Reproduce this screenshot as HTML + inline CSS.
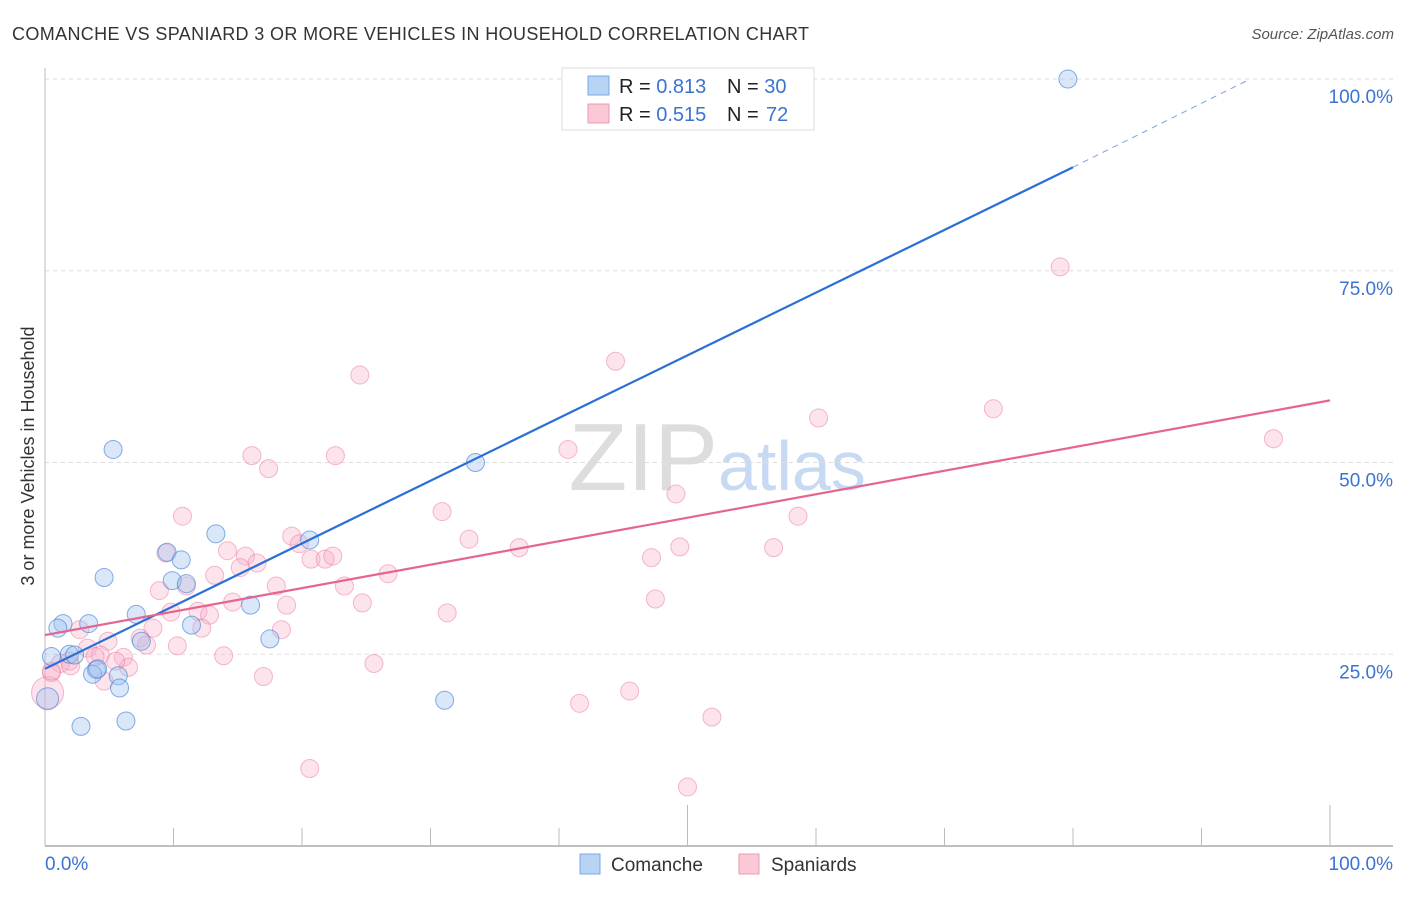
<!DOCTYPE html>
<html><head><meta charset="utf-8"><style>
body{margin:0;background:#fff;font-family:"Liberation Sans",sans-serif;}
svg text{font-family:"Liberation Sans",sans-serif;}
</style></head><body>
<svg id="chart" width="1406" height="892" xmlns="http://www.w3.org/2000/svg">
<text x="12" y="40" font-size="18" fill="#333" textLength="797">COMANCHE VS SPANIARD 3 OR MORE VEHICLES IN HOUSEHOLD CORRELATION CHART</text>
<text x="1394" y="39" font-size="15" fill="#555" font-style="italic" text-anchor="end">Source: ZipAtlas.com</text>
<text x="34" y="456" font-size="18" fill="#333" text-anchor="middle" transform="rotate(-90 34 456)">3 or more Vehicles in Household</text>
<text x="718" y="490" font-size="96" fill="#ddd" text-anchor="end" font-family="Liberation Serif">ZIP</text>
<text x="718" y="490" font-size="70" fill="#c8daf3">atlas</text>
<g id="grid"></g><g id="axes"></g><g id="pts"></g><g id="trend"></g>
<g>
<rect x="562" y="68" width="252" height="62" fill="#fff" stroke="#ddd"/>
<rect x="588" y="76" width="21" height="19" fill="#b8d4f5" stroke="#7aa8e6"/>
<rect x="588" y="104" width="21" height="19" fill="#fbc8d6" stroke="#ee9ab3"/>
<text x="619" y="93" font-size="20" fill="#222">R = <tspan fill="#3b73d1">0.813</tspan><tspan x="727">N = </tspan><tspan fill="#3b73d1">30</tspan></text>
<text x="619" y="121" font-size="20" fill="#222">R = <tspan fill="#3b73d1">0.515</tspan><tspan x="727">N = </tspan><tspan fill="#3b73d1" x="766">72</tspan></text>
</g>
<g>
<rect x="580" y="854" width="20" height="20" fill="#b8d4f5" stroke="#7aa8e6"/>
<text x="611" y="871" font-size="19" fill="#333">Comanche</text>
<rect x="739" y="854" width="20" height="20" fill="#fbc8d6" stroke="#ee9ab3"/>
<text x="771" y="871" font-size="19" fill="#333">Spaniards</text>
</g>
</svg>
<script>
const yTicks=[25,50,75,100];
const yTickLabels=["25.0%","50.0%","75.0%","100.0%"];
const xEndLabels=["0.0%","100.0%"];
const comancheX=[79.6,33.5,5.3,13.3,20.6,9.5,10.6,9.9,11.0,4.6,7.1,16.0,11.4,1.4,3.4,1.0,7.5,17.5,0.5,1.9,2.3,4.0,3.7,5.7,5.8,31.1,0.2,2.8,6.3,4.1];
const comancheY=[100,50,51.7,40.7,39.9,38.3,37.3,34.6,34.2,35.0,30.2,31.4,28.8,29.0,29.0,28.4,26.7,27.0,24.7,25.0,24.9,23.0,22.4,22.2,20.6,19.0,19.2,15.6,16.3,23.1];
const spanX=[79.0,44.4,24.5,60.2,73.8,95.6,40.7,16.1,22.6,17.4,49.1,10.7,30.9,58.6,19.2,33.0,19.8,36.9,56.7,49.4,9.4,14.2,15.6,16.5,47.2,20.7,21.8,22.4,15.2,13.2,26.7,8.9,11.0,18.0,23.3,47.5,14.6,18.8,24.7,9.8,11.9,12.8,31.3,8.4,2.7,12.2,18.4,7.4,4.9,10.3,7.9,3.3,4.3,6.1,1.9,13.9,3.9,1.2,25.6,6.5,5.5,0.5,4.6,17.0,45.5,41.6,51.9,20.6,50.0,0.2,0.5,2.0];
const spanY=[75.5,63.2,61.4,55.8,57.0,53.1,51.7,50.9,50.9,49.2,45.9,43.0,43.6,43.0,40.4,40.0,39.4,38.9,38.9,39.0,38.2,38.5,37.8,36.9,37.6,37.4,37.4,37.8,36.3,35.3,35.5,33.3,33.9,33.9,33.9,32.2,31.8,31.4,31.7,30.5,30.6,30.1,30.4,28.4,28.2,28.4,28.2,27.1,26.7,26.1,26.2,25.8,24.9,24.6,24.1,24.8,24.7,23.8,23.8,23.3,24.1,22.6,21.5,22.1,20.2,18.6,16.8,10.1,7.7,20.0,22.8,23.5];
const blueLine=[[0,23.1],[80,88.5]], blueDash=[[80,88.5],[93.8,100]];
const pinkLine=[[0,27.5],[100,58.1]];
const NS="http://www.w3.org/2000/svg";
const X=v=>45+v*12.85, Y=v=>846-v*7.67;
function mk(t,a,p){const e=document.createElementNS(NS,t);for(const k in a)e.setAttribute(k,a[k]);p.appendChild(e);return e;}
const grid=document.getElementById('grid'),axes=document.getElementById('axes');
yTicks.forEach((t,i)=>{
 const l=mk('line',{x1:45,x2:1393,y1:Y(t),y2:Y(t),stroke:'#ddd','stroke-dasharray':'4,4'},grid);
 
 
 const tx=mk('text',{x:1393,y:Y(t)+24,'font-size':19,fill:'#3b73d1','text-anchor':'end'},axes);
 tx.textContent=yTickLabels[i];
 
 
});
const ya=mk('line',{x1:45,x2:45,y1:68,y2:846,stroke:'#bbb'},axes);


const xa=mk('line',{x1:45,x2:1393,y1:846,y2:846,stroke:'#aaa','stroke-width':1.5},axes);


for(let i=0;i<=10;i++){
 const major=(i==0||i==5||i==10);
 const tk=mk('line',{x1:X(i*10),x2:X(i*10),y1:major?805:828,y2:846,stroke:'#bbb'},axes);
 
 
}
[[45,'start',0],[1393,'end',1]].forEach(([x,a,i])=>{
 const tx=mk('text',{x:x,y:870,'font-size':19,fill:'#3b73d1','text-anchor':a},axes);
 tx.textContent=xEndLabels[i];
 
 
});
const pts=document.getElementById('pts');
spanX.forEach((v,i)=>{
 const r=(i==69)?16:9;
 const c=mk('circle',{cx:X(v),cy:Y(spanY[i]),r:r,fill:'rgba(248,170,195,0.32)',stroke:'rgba(232,120,155,0.5)'},pts);
 
 
});
comancheX.forEach((v,i)=>{
 const r=(i==26)?11:9;
 const c=mk('circle',{cx:X(v),cy:Y(comancheY[i]),r:r,fill:'rgba(160,196,240,0.4)',stroke:'rgba(70,130,215,0.65)'},pts);
 
 
});
const tr=document.getElementById('trend');
const bl=mk('line',{x1:X(blueLine[0][0]),y1:Y(blueLine[0][1]),x2:X(blueLine[1][0]),y2:Y(blueLine[1][1]),stroke:'#2a6fd6','stroke-width':2.2},tr);


const bd=mk('line',{x1:X(blueDash[0][0]),y1:Y(blueDash[0][1]),x2:X(blueDash[1][0]),y2:Y(blueDash[1][1]),stroke:'#7aa3e0','stroke-width':1,'stroke-dasharray':'6,5'},tr);


const pl=mk('line',{x1:X(pinkLine[0][0]),y1:Y(pinkLine[0][1]),x2:X(pinkLine[1][0]),y2:Y(pinkLine[1][1]),stroke:'#e5658f','stroke-width':2.2},tr);


</script>
</body></html>
